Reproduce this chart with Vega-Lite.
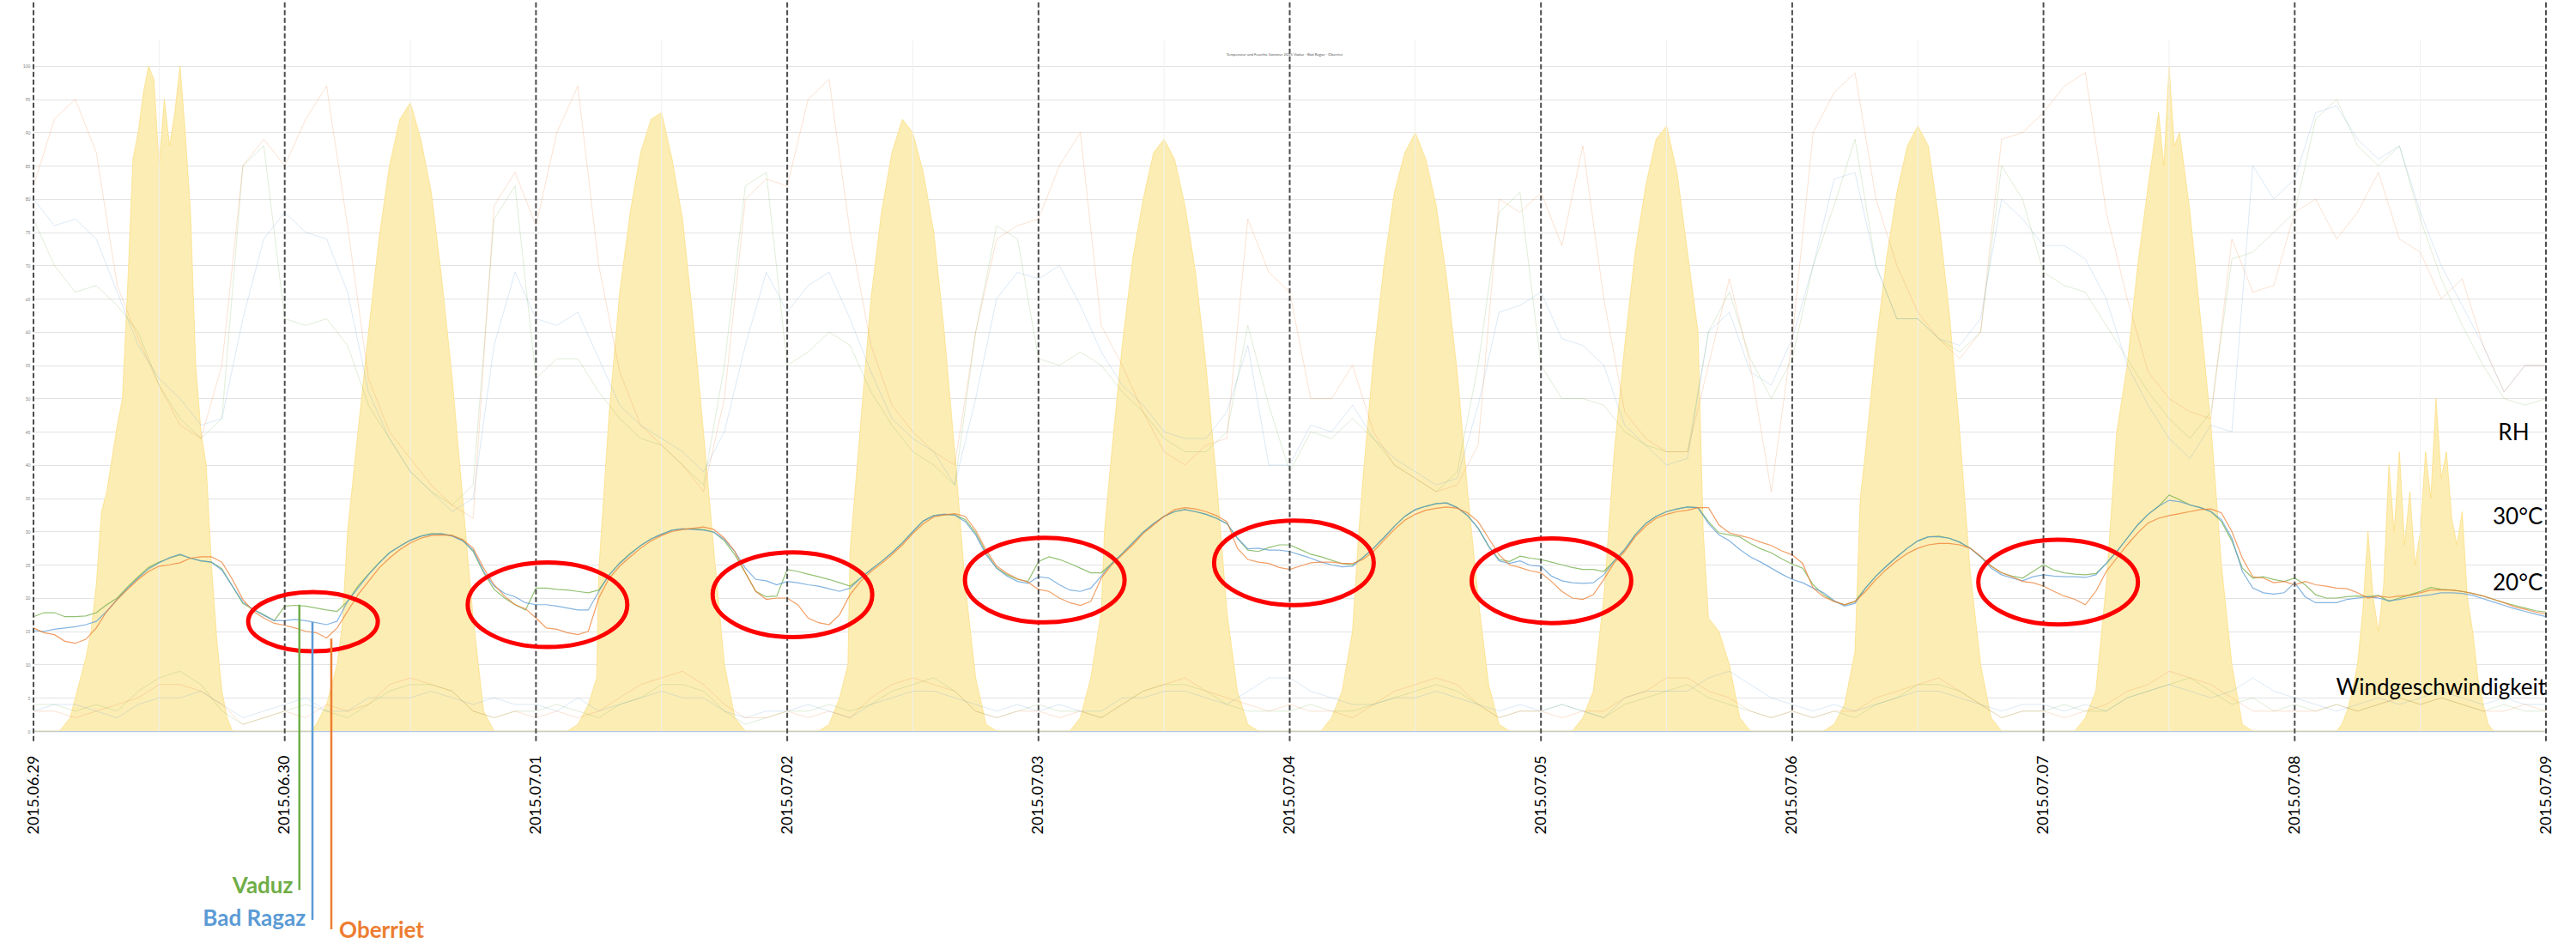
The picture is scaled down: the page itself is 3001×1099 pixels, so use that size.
{
"$schema":"https://vega.github.io/schema/vega-lite/v6.json",
"width":2927,"height":805,"autosize":"none",
"padding":{"left":39,"top":47,"right":35,"bottom":247},
"background":"white",
"config":{"view":{"stroke":null},"font":"Lato"},
"datasets":{
"sun":[{"h":0,"v":0},{"h":2.5,"v":0},{"h":3,"v":1},{"h":3.5,"v":2},{"h":4,"v":5},{"h":4.5,"v":8},{"h":5,"v":11},{"h":5.5,"v":15},{"h":6,"v":22},{"h":6.5,"v":33},{"h":7,"v":36},{"h":7.5,"v":41},{"h":8,"v":46},{"h":8.5,"v":50},{"h":9,"v":67},{"h":9.5,"v":86},{"h":10,"v":90},{"h":10.5,"v":96},{"h":11,"v":100},{"h":11.5,"v":98},{"h":12,"v":85},{"h":12.5,"v":95},{"h":13,"v":88},{"h":13.5,"v":93},{"h":14,"v":100},{"h":14.5,"v":90},{"h":15,"v":78},{"h":15.5,"v":55},{"h":16,"v":45},{"h":16.5,"v":40},{"h":17,"v":25},{"h":17.5,"v":14},{"h":18,"v":6},{"h":18.5,"v":2},{"h":19,"v":0},
{"h":26.5,"v":0},{"h":27,"v":1},{"h":28,"v":4},{"h":29,"v":10},{"h":29.5,"v":16},{"h":30,"v":30},{"h":31,"v":45},{"h":32,"v":60},{"h":33,"v":74},{"h":34,"v":85},{"h":35,"v":92},{"h":36,"v":94.5},{"h":37,"v":89},{"h":38,"v":81},{"h":39,"v":68},{"h":40,"v":53},{"h":41,"v":35},{"h":42,"v":17},{"h":43,"v":3},{"h":44,"v":0},
{"h":51,"v":0},{"h":52,"v":1},{"h":53,"v":4},{"h":53.8,"v":8},{"h":54,"v":24},{"h":55,"v":48},{"h":56,"v":66},{"h":57,"v":78},{"h":58,"v":87},{"h":59,"v":92},{"h":60,"v":93},{"h":61,"v":86},{"h":62,"v":77},{"h":63,"v":62},{"h":64,"v":45},{"h":65,"v":27},{"h":66,"v":10},{"h":67,"v":2},{"h":68,"v":0},
{"h":75,"v":0},{"h":76,"v":1},{"h":77,"v":5},{"h":77.8,"v":10},{"h":78,"v":27},{"h":79,"v":46},{"h":80,"v":65},{"h":81,"v":78},{"h":82,"v":87},{"h":83,"v":92},{"h":84,"v":90},{"h":85,"v":84},{"h":86,"v":75},{"h":87,"v":60},{"h":88,"v":42},{"h":89,"v":22},{"h":90,"v":8},{"h":91,"v":1},{"h":92,"v":0},
{"h":99,"v":0},{"h":100,"v":2},{"h":101,"v":8},{"h":102,"v":18},{"h":102.3,"v":30},{"h":103,"v":42},{"h":104,"v":58},{"h":105,"v":71},{"h":106,"v":80},{"h":107,"v":87},{"h":108,"v":89},{"h":109,"v":86},{"h":110,"v":79},{"h":111,"v":69},{"h":112,"v":55},{"h":113,"v":38},{"h":114,"v":18},{"h":115,"v":6},{"h":116,"v":1},{"h":117,"v":0},
{"h":123,"v":0},{"h":124,"v":2},{"h":125,"v":6},{"h":126,"v":15},{"h":126.6,"v":30},{"h":127,"v":38},{"h":128,"v":56},{"h":129,"v":70},{"h":130,"v":81},{"h":131,"v":87},{"h":132,"v":90},{"h":133,"v":86},{"h":134,"v":79},{"h":135,"v":68},{"h":136,"v":54},{"h":137,"v":36},{"h":138,"v":20},{"h":139,"v":7},{"h":140,"v":1},{"h":141,"v":0},
{"h":147,"v":0},{"h":148,"v":2},{"h":149,"v":6},{"h":150,"v":20},{"h":151,"v":42},{"h":152,"v":58},{"h":153,"v":72},{"h":154,"v":82},{"h":155,"v":89},{"h":156,"v":91},{"h":157,"v":84},{"h":158,"v":72},{"h":159,"v":60},{"h":159.5,"v":30},{"h":160,"v":17},{"h":161,"v":15},{"h":162,"v":10},{"h":163,"v":2},{"h":164,"v":0},
{"h":171,"v":0},{"h":172,"v":1},{"h":173,"v":4},{"h":174,"v":12},{"h":174.5,"v":35},{"h":175,"v":42},{"h":176,"v":58},{"h":177,"v":71},{"h":178,"v":81},{"h":179,"v":88},{"h":180,"v":91},{"h":181,"v":88},{"h":182,"v":77},{"h":183,"v":63},{"h":184,"v":45},{"h":185,"v":24},{"h":186,"v":10},{"h":187,"v":2},{"h":188,"v":0},
{"h":195,"v":0},{"h":196,"v":2},{"h":197,"v":6},{"h":198,"v":22},{"h":199,"v":45},{"h":200,"v":55},{"h":201,"v":70},{"h":202,"v":82},{"h":203,"v":93},{"h":203.5,"v":85},{"h":204,"v":100},{"h":204.5,"v":88},{"h":205,"v":90},{"h":206,"v":78},{"h":207,"v":62},{"h":208,"v":46},{"h":209,"v":25},{"h":210,"v":10},{"h":211,"v":1},{"h":212,"v":0},
{"h":220,"v":0},{"h":220.5,"v":1},{"h":221,"v":3},{"h":221.5,"v":6},{"h":222,"v":10},{"h":222.5,"v":18},{"h":223,"v":30},{"h":223.5,"v":20},{"h":224,"v":15},{"h":224.5,"v":22},{"h":225,"v":40},{"h":225.5,"v":30},{"h":226,"v":42},{"h":226.5,"v":28},{"h":227,"v":36},{"h":227.5,"v":25},{"h":228,"v":30},{"h":228.5,"v":42},{"h":229,"v":35},{"h":229.5,"v":50},{"h":230,"v":38},{"h":230.5,"v":42},{"h":231,"v":32},{"h":231.5,"v":28},{"h":232,"v":33},{"h":232.5,"v":20},{"h":233,"v":15},{"h":233.5,"v":8},{"h":234,"v":4},{"h":234.5,"v":1},{"h":235,"v":0},{"h":240,"v":0}],
"temp":[{"h":0,"g":17.2,"b":15.1,"o":15.5},{"h":1,"g":17.8,"b":15.0,"o":14.8},{"h":2,"g":17.8,"b":15.3,"o":14.5},{"h":3,"g":17.2,"b":15.5,"o":13.5},{"h":4,"g":17.2,"b":15.7,"o":13.2},{"h":5,"g":17.3,"b":16.0,"o":13.8},{"h":6,"g":17.8,"b":16.5,"o":15.5},{"h":7,"g":19.0,"b":18.0,"o":18.0},{"h":8,"g":20.0,"b":19.8,"o":19.8},{"h":9,"g":21.7,"b":21.5,"o":21.3},{"h":10,"g":23.2,"b":23.0,"o":22.8},{"h":11,"g":24.6,"b":24.4,"o":24.0},{"h":12,"g":25.4,"b":25.3,"o":24.8},{"h":13,"g":26.0,"b":26.1,"o":25.0},{"h":14,"g":26.5,"b":26.6,"o":25.3},{"h":15,"g":26.0,"b":26.0,"o":26.0},{"h":16,"g":25.6,"b":25.6,"o":26.2},{"h":17,"g":25.4,"b":25.4,"o":26.2},{"h":18,"g":24.4,"b":24.2,"o":25.4},{"h":19,"g":21.8,"b":21.8,"o":22.8},{"h":20,"g":19.2,"b":19.4,"o":19.8},{"h":21,"g":18.3,"b":18.3,"o":18.0},{"h":22,"g":17.5,"b":17.4,"o":17.0},{"h":23,"g":16.6,"b":16.6,"o":16.2},
{"h":24,"g":18.8,"b":16.6,"o":15.9},{"h":25,"g":18.9,"b":16.8,"o":15.5},{"h":26,"g":18.8,"b":16.6,"o":15.0},{"h":27,"g":18.5,"b":16.3,"o":14.8},{"h":28,"g":18.2,"b":16.0,"o":14.0},{"h":29,"g":18.0,"b":16.5,"o":15.5},{"h":30,"g":19.5,"b":19.5,"o":18.0},{"h":31,"g":21.8,"b":21.5,"o":20.5},{"h":32,"g":23.6,"b":23.5,"o":22.5},{"h":33,"g":25.3,"b":25.2,"o":24.5},{"h":34,"g":26.8,"b":26.8,"o":26.0},{"h":35,"g":27.8,"b":27.8,"o":27.3},{"h":36,"g":28.7,"b":28.7,"o":28.3},{"h":37,"g":29.3,"b":29.3,"o":29.0},{"h":38,"g":29.7,"b":29.6,"o":29.4},{"h":39,"g":29.6,"b":29.7,"o":29.5},{"h":40,"g":29.4,"b":29.3,"o":29.4},{"h":41,"g":28.7,"b":28.6,"o":28.8},{"h":42,"g":27.0,"b":27.2,"o":27.5},{"h":43,"g":23.8,"b":24.0,"o":24.5},{"h":44,"g":21.3,"b":21.8,"o":22.0},{"h":45,"g":20.0,"b":20.7,"o":20.3},{"h":46,"g":19.0,"b":20.2,"o":19.0},{"h":47,"g":18.2,"b":19.3,"o":18.4},
{"h":48,"g":21.5,"b":19.0,"o":17.0},{"h":49,"g":21.5,"b":19.0,"o":15.5},{"h":50,"g":21.3,"b":18.8,"o":15.3},{"h":51,"g":21.2,"b":18.5,"o":14.8},{"h":52,"g":21.0,"b":18.2,"o":14.5},{"h":53,"g":20.8,"b":18.2,"o":15.0},{"h":54,"g":21.2,"b":21.0,"o":20.0},{"h":55,"g":23.5,"b":23.5,"o":23.0},{"h":56,"g":25.3,"b":25.2,"o":24.8},{"h":57,"g":26.7,"b":26.6,"o":26.2},{"h":58,"g":27.9,"b":27.9,"o":27.5},{"h":59,"g":28.9,"b":28.9,"o":28.6},{"h":60,"g":29.6,"b":29.6,"o":29.4},{"h":61,"g":30.2,"b":30.2,"o":30.0},{"h":62,"g":30.4,"b":30.4,"o":30.3},{"h":63,"g":30.4,"b":30.3,"o":30.5},{"h":64,"g":30.3,"b":30.2,"o":30.7},{"h":65,"g":29.9,"b":29.9,"o":30.3},{"h":66,"g":28.6,"b":28.8,"o":29.0},{"h":67,"g":26.5,"b":27.0,"o":27.0},{"h":68,"g":23.8,"b":24.5,"o":23.8},{"h":69,"g":21.0,"b":22.8,"o":21.0},{"h":70,"g":20.2,"b":22.6,"o":19.8},{"h":71,"g":20.3,"b":22.0,"o":20.0},
{"h":72,"g":24.3,"b":22.5,"o":20.0},{"h":73,"g":24.0,"b":22.3,"o":19.0},{"h":74,"g":23.6,"b":22.0,"o":17.0},{"h":75,"g":23.2,"b":21.8,"o":16.3},{"h":76,"g":22.8,"b":21.4,"o":16.0},{"h":77,"g":22.3,"b":21.0,"o":17.5},{"h":78,"g":21.8,"b":21.5,"o":20.5},{"h":79,"g":23.0,"b":23.0,"o":22.5},{"h":80,"g":24.3,"b":24.3,"o":24.0},{"h":81,"g":25.5,"b":25.5,"o":25.2},{"h":82,"g":26.8,"b":26.8,"o":26.5},{"h":83,"g":28.3,"b":28.3,"o":28.0},{"h":84,"g":30.0,"b":30.0,"o":29.7},{"h":85,"g":31.6,"b":31.6,"o":31.2},{"h":86,"g":32.4,"b":32.4,"o":32.2},{"h":87,"g":32.6,"b":32.6,"o":32.5},{"h":88,"g":32.5,"b":32.5,"o":32.7},{"h":89,"g":31.8,"b":31.5,"o":32.3},{"h":90,"g":29.8,"b":29.5,"o":30.2},{"h":91,"g":26.8,"b":26.5,"o":27.2},{"h":92,"g":24.5,"b":24.5,"o":24.8},{"h":93,"g":23.5,"b":23.3,"o":23.7},{"h":94,"g":22.8,"b":22.5,"o":22.9},{"h":95,"g":22.5,"b":22.2,"o":22.4},
{"h":96,"g":25.5,"b":23.2,"o":21.3},{"h":97,"g":26.2,"b":23.0,"o":21.0},{"h":98,"g":25.8,"b":22.0,"o":20.0},{"h":99,"g":25.2,"b":21.2,"o":19.3},{"h":100,"g":24.5,"b":21.0,"o":18.9},{"h":101,"g":23.8,"b":21.5,"o":19.5},{"h":102,"g":23.8,"b":23.3,"o":23.0},{"h":103,"g":25.2,"b":25.2,"o":25.0},{"h":104,"g":26.7,"b":26.7,"o":26.5},{"h":105,"g":28.3,"b":28.3,"o":28.0},{"h":106,"g":29.9,"b":29.9,"o":29.7},{"h":107,"g":31.2,"b":31.2,"o":31.0},{"h":108,"g":32.3,"b":32.3,"o":32.3},{"h":109,"g":33.0,"b":33.0,"o":33.3},{"h":110,"g":33.3,"b":33.3,"o":33.6},{"h":111,"g":33.0,"b":33.0,"o":33.4},{"h":112,"g":32.6,"b":32.6,"o":33.0},{"h":113,"g":32.0,"b":32.0,"o":32.4},{"h":114,"g":31.2,"b":31.2,"o":31.5},{"h":115,"g":29.0,"b":29.0,"o":27.5},{"h":116,"g":27.2,"b":27.4,"o":25.8},{"h":117,"g":27.0,"b":27.5,"o":25.4},{"h":118,"g":27.6,"b":27.2,"o":25.2},{"h":119,"g":28.0,"b":27.2,"o":24.6},
{"h":120,"g":28.0,"b":27.0,"o":24.3},{"h":121,"g":27.3,"b":26.5,"o":24.8},{"h":122,"g":26.6,"b":26.0,"o":25.3},{"h":123,"g":26.2,"b":25.4,"o":25.4},{"h":124,"g":25.7,"b":25.0,"o":25.4},{"h":125,"g":25.2,"b":24.7,"o":25.2},{"h":126,"g":25.0,"b":24.8,"o":25.2},{"h":127,"g":26.1,"b":26.1,"o":25.8},{"h":128,"g":27.5,"b":27.5,"o":27.0},{"h":129,"g":29.1,"b":29.1,"o":28.7},{"h":130,"g":30.8,"b":30.8,"o":30.3},{"h":131,"g":32.3,"b":32.3,"o":31.7},{"h":132,"g":33.3,"b":33.3,"o":32.6},{"h":133,"g":33.8,"b":33.8,"o":33.2},{"h":134,"g":34.2,"b":34.2,"o":33.5},{"h":135,"g":34.3,"b":34.3,"o":33.7},{"h":136,"g":33.6,"b":33.6,"o":33.5},{"h":137,"g":32.4,"b":32.4,"o":32.8},{"h":138,"g":30.5,"b":30.5,"o":31.5},{"h":139,"g":27.8,"b":27.8,"o":29.0},{"h":140,"g":25.8,"b":25.6,"o":26.5},{"h":141,"g":25.5,"b":25.2,"o":25.0},{"h":142,"g":26.3,"b":25.6,"o":24.6},{"h":143,"g":26.0,"b":24.9,"o":24.1},
{"h":144,"g":25.8,"b":24.8,"o":23.8},{"h":145,"g":25.4,"b":23.3,"o":22.5},{"h":146,"g":25.0,"b":22.6,"o":21.0},{"h":147,"g":24.6,"b":22.3,"o":20.0},{"h":148,"g":24.3,"b":22.2,"o":19.8},{"h":149,"g":24.3,"b":22.3,"o":20.5},{"h":150,"g":24.0,"b":23.5,"o":22.8},{"h":151,"g":25.6,"b":25.6,"o":25.3},{"h":152,"g":27.3,"b":27.3,"o":27.0},{"h":153,"g":29.5,"b":29.5,"o":29.2},{"h":154,"g":31.2,"b":31.2,"o":30.8},{"h":155,"g":32.3,"b":32.3,"o":32.0},{"h":156,"g":33.0,"b":33.0,"o":32.6},{"h":157,"g":33.4,"b":33.4,"o":33.0},{"h":158,"g":33.7,"b":33.7,"o":33.2},{"h":159,"g":33.6,"b":33.6,"o":33.6},{"h":160,"g":31.5,"b":31.2,"o":33.6},{"h":161,"g":29.8,"b":29.5,"o":31.0},{"h":162,"g":29.5,"b":28.6,"o":29.8},{"h":163,"g":29.2,"b":27.3,"o":29.4},{"h":164,"g":28.2,"b":26.2,"o":29.0},{"h":165,"g":27.4,"b":25.4,"o":28.4},{"h":166,"g":26.8,"b":24.5,"o":27.9},{"h":167,"g":25.9,"b":23.6,"o":27.1},
{"h":168,"g":25.1,"b":22.8,"o":26.5},{"h":169,"g":24.5,"b":22.3,"o":25.2},{"h":170,"g":22.0,"b":21.5,"o":21.5},{"h":171,"g":20.5,"b":20.8,"o":20.2},{"h":172,"g":19.5,"b":19.6,"o":19.5},{"h":173,"g":19.0,"b":18.8,"o":19.0},{"h":174,"g":19.5,"b":19.2,"o":19.5},{"h":175,"g":21.5,"b":21.5,"o":21.0},{"h":176,"g":23.3,"b":23.3,"o":22.8},{"h":177,"g":24.8,"b":24.8,"o":24.3},{"h":178,"g":26.2,"b":26.2,"o":25.6},{"h":179,"g":27.5,"b":27.5,"o":26.7},{"h":180,"g":28.6,"b":28.6,"o":27.5},{"h":181,"g":29.2,"b":29.2,"o":28.0},{"h":182,"g":29.3,"b":29.2,"o":28.2},{"h":183,"g":29.0,"b":29.0,"o":28.2},{"h":184,"g":28.4,"b":28.4,"o":28.0},{"h":185,"g":27.5,"b":27.5,"o":27.5},{"h":186,"g":26.2,"b":26.2,"o":26.3},{"h":187,"g":24.8,"b":24.5,"o":24.8},{"h":188,"g":23.8,"b":23.5,"o":23.8},{"h":189,"g":23.3,"b":23.0,"o":23.2},{"h":190,"g":23.0,"b":22.6,"o":22.5},{"h":191,"g":24.0,"b":23.2,"o":22.3},
{"h":192,"g":25.0,"b":23.5,"o":21.8},{"h":193,"g":24.2,"b":23.3,"o":21.0},{"h":194,"g":23.8,"b":23.2,"o":20.3},{"h":195,"g":23.6,"b":23.2,"o":19.8},{"h":196,"g":23.5,"b":23.1,"o":19.0},{"h":197,"g":23.7,"b":23.5,"o":21.0},{"h":198,"g":25.2,"b":25.2,"o":24.0},{"h":199,"g":27.0,"b":27.0,"o":26.0},{"h":200,"g":29.0,"b":29.0,"o":28.0},{"h":201,"g":31.0,"b":31.0,"o":29.8},{"h":202,"g":32.6,"b":32.6,"o":31.3},{"h":203,"g":33.8,"b":33.8,"o":32.0},{"h":204,"g":35.5,"b":34.7,"o":32.4},{"h":205,"g":34.8,"b":34.5,"o":32.7},{"h":206,"g":34.0,"b":34.0,"o":33.0},{"h":207,"g":33.6,"b":33.6,"o":33.3},{"h":208,"g":33.0,"b":33.0,"o":33.4},{"h":209,"g":31.5,"b":31.8,"o":32.8},{"h":210,"g":28.6,"b":29.0,"o":30.0},{"h":211,"g":24.5,"b":24.0,"o":26.0},{"h":212,"g":23.0,"b":21.5,"o":23.2},{"h":213,"g":23.2,"b":20.8,"o":23.0},{"h":214,"g":22.8,"b":20.6,"o":22.3},{"h":215,"g":22.5,"b":20.8,"o":22.5},
{"h":216,"g":23.0,"b":22.3,"o":22.0},{"h":217,"g":22.0,"b":20.2,"o":22.5},{"h":218,"g":20.5,"b":19.3,"o":22.0},{"h":219,"g":20.0,"b":19.3,"o":21.8},{"h":220,"g":20.0,"b":19.3,"o":21.5},{"h":221,"g":20.2,"b":19.8,"o":21.4},{"h":222,"g":20.3,"b":20.0,"o":20.8},{"h":223,"g":20.2,"b":20.2,"o":20.0},{"h":224,"g":20.4,"b":20.0,"o":20.3},{"h":225,"g":19.5,"b":19.6,"o":20.1},{"h":226,"g":20.0,"b":19.8,"o":20.3},{"h":227,"g":20.5,"b":20.1,"o":20.4},{"h":228,"g":21.0,"b":20.3,"o":20.8},{"h":229,"g":21.6,"b":20.5,"o":21.2},{"h":230,"g":21.3,"b":20.8,"o":21.2},{"h":231,"g":21.2,"b":20.8,"o":21.2},{"h":232,"g":21.0,"b":20.7,"o":21.0},{"h":233,"g":20.7,"b":20.4,"o":20.7},{"h":234,"g":20.3,"b":19.9,"o":20.3},{"h":235,"g":19.8,"b":19.4,"o":19.8},{"h":236,"g":19.3,"b":18.9,"o":19.3},{"h":237,"g":18.9,"b":18.4,"o":18.7},{"h":238,"g":18.5,"b":18.0,"o":18.3},{"h":239,"g":18.1,"b":17.6,"o":17.9},{"h":240,"g":17.9,"b":17.2,"o":17.6}],
"rh":[{"h":0,"g":77,"b":80,"o":82},{"h":2,"g":70,"b":76,"o":92},{"h":4,"g":66,"b":77,"o":95},{"h":6,"g":67,"b":74,"o":87},{"h":8,"g":64,"b":66,"o":67},{"h":10,"g":60,"b":58,"o":59},{"h":12,"g":52,"b":53,"o":52},{"h":14,"g":47,"b":50,"o":46},{"h":16,"g":44,"b":46,"o":44},{"h":18,"g":47,"b":47,"o":55},{"h":20,"g":85,"b":62,"o":85},{"h":22,"g":88,"b":74,"o":89},
{"h":24,"g":62,"b":78,"o":85},{"h":26,"g":61,"b":75,"o":92},{"h":28,"g":62,"b":74,"o":97},{"h":30,"g":58,"b":66,"o":76},{"h":32,"g":49,"b":51,"o":53},{"h":34,"g":44,"b":44,"o":45},{"h":36,"g":39,"b":39,"o":41},{"h":38,"g":36,"b":36,"o":37},{"h":40,"g":34,"b":33,"o":34},{"h":42,"g":37,"b":35,"o":32},{"h":44,"g":77,"b":58,"o":79},{"h":46,"g":82,"b":69,"o":84},
{"h":48,"g":53,"b":62,"o":76},{"h":50,"g":56,"b":61,"o":90},{"h":52,"g":56,"b":63,"o":97},{"h":54,"g":51,"b":56,"o":70},{"h":56,"g":47,"b":49,"o":54},{"h":58,"g":44,"b":46,"o":46},{"h":60,"g":43,"b":44,"o":43},{"h":62,"g":40,"b":42,"o":40},{"h":64,"g":37,"b":39,"o":36},{"h":66,"g":55,"b":45,"o":50},{"h":68,"g":82,"b":58,"o":80},{"h":70,"g":84,"b":69,"o":83},
{"h":72,"g":55,"b":63,"o":82},{"h":74,"g":57,"b":67,"o":95},{"h":76,"g":60,"b":69,"o":98},{"h":78,"g":58,"b":62,"o":75},{"h":80,"g":51,"b":54,"o":58},{"h":82,"g":46,"b":47,"o":49},{"h":84,"g":42,"b":44,"o":45},{"h":86,"g":40,"b":42,"o":42},{"h":88,"g":37,"b":37,"o":40},{"h":90,"g":60,"b":50,"o":60},{"h":92,"g":76,"b":65,"o":74},{"h":94,"g":74,"b":69,"o":76},
{"h":96,"g":56,"b":68,"o":77},{"h":98,"g":55,"b":70,"o":85},{"h":100,"g":57,"b":64,"o":90},{"h":102,"g":55,"b":57,"o":61},{"h":104,"g":51,"b":52,"o":55},{"h":106,"g":48,"b":49,"o":48},{"h":108,"g":44,"b":45,"o":42},{"h":110,"g":42,"b":44,"o":40},{"h":112,"g":42,"b":44,"o":43},{"h":114,"g":45,"b":48,"o":44},{"h":116,"g":61,"b":58,"o":77},{"h":118,"g":49,"b":40,"o":69},
{"h":120,"g":39,"b":40,"o":66},{"h":122,"g":45,"b":46,"o":50},{"h":124,"g":44,"b":45,"o":50},{"h":126,"g":47,"b":49,"o":55},{"h":128,"g":44,"b":44,"o":45},{"h":130,"g":40,"b":41,"o":40},{"h":132,"g":38,"b":39,"o":38},{"h":134,"g":36,"b":37,"o":36},{"h":136,"g":39,"b":38,"o":37},{"h":138,"g":55,"b":49,"o":43},{"h":140,"g":78,"b":63,"o":80},{"h":142,"g":81,"b":64,"o":78},
{"h":144,"g":55,"b":66,"o":81},{"h":146,"g":50,"b":59,"o":73},{"h":148,"g":50,"b":58,"o":88},{"h":150,"g":49,"b":55,"o":65},{"h":152,"g":45,"b":46,"o":48},{"h":154,"g":43,"b":43,"o":44},{"h":156,"g":42,"b":40,"o":42},{"h":158,"g":42,"b":41,"o":42},{"h":160,"g":60,"b":60,"o":55},{"h":162,"g":66,"b":63,"o":68},{"h":164,"g":56,"b":54,"o":55},{"h":166,"g":50,"b":52,"o":36},
{"h":168,"g":56,"b":59,"o":59},{"h":170,"g":70,"b":70,"o":90},{"h":172,"g":79,"b":83,"o":96},{"h":174,"g":89,"b":84,"o":99},{"h":176,"g":70,"b":70,"o":80},{"h":178,"g":62,"b":62,"o":70},{"h":180,"g":62,"b":62,"o":63},{"h":182,"g":59,"b":59,"o":59},{"h":184,"g":57,"b":58,"o":56},{"h":186,"g":60,"b":62,"o":60},{"h":188,"g":85,"b":80,"o":89},{"h":190,"g":80,"b":77,"o":90},
{"h":192,"g":69,"b":73,"o":93},{"h":194,"g":67,"b":73,"o":97},{"h":196,"g":66,"b":71,"o":99},{"h":198,"g":61,"b":65,"o":78},{"h":200,"g":56,"b":55,"o":65},{"h":202,"g":51,"b":49,"o":54},{"h":204,"g":47,"b":44,"o":50},{"h":206,"g":44,"b":41,"o":48},{"h":208,"g":48,"b":46,"o":47},{"h":210,"g":71,"b":45,"o":74},{"h":212,"g":72,"b":85,"o":66},{"h":214,"g":75,"b":80,"o":67},
{"h":216,"g":78,"b":83,"o":78},{"h":218,"g":92,"b":93,"o":80},{"h":220,"g":95,"b":94,"o":74},{"h":222,"g":88,"b":89,"o":78},{"h":224,"g":85,"b":86,"o":84},{"h":226,"g":88,"b":88,"o":74},{"h":228,"g":77,"b":78,"o":72},{"h":230,"g":68,"b":70,"o":65},{"h":232,"g":61,"b":64,"o":68},{"h":234,"g":55,"b":58,"o":58},{"h":236,"g":50,"b":51,"o":51},{"h":238,"g":49,"b":55,"o":55},{"h":240,"g":50,"b":55,"o":55}],
"wind":[{"h":0,"g":4,"b":3,"o":3},{"h":2,"g":4,"b":4,"o":3},{"h":4,"g":3,"b":4,"o":2},{"h":6,"g":4,"b":3,"o":3},{"h":8,"g":3,"b":2,"o":4},{"h":10,"g":6,"b":4,"o":5},{"h":12,"g":8,"b":5,"o":7},{"h":14,"g":9,"b":5,"o":7},{"h":16,"g":7,"b":6,"o":6},{"h":18,"g":3,"b":4,"o":4},{"h":20,"g":1,"b":2,"o":1},{"h":22,"g":2,"b":3,"o":2},
{"h":24,"g":3,"b":4,"o":3},{"h":26,"g":4,"b":5,"o":2},{"h":28,"g":3,"b":3,"o":4},{"h":30,"g":2,"b":3,"o":3},{"h":32,"g":4,"b":5,"o":4},{"h":34,"g":6,"b":5,"o":7},{"h":36,"g":7,"b":5,"o":8},{"h":38,"g":7,"b":6,"o":7},{"h":40,"g":6,"b":5,"o":6},{"h":42,"g":3,"b":4,"o":3},{"h":44,"g":2,"b":5,"o":2},{"h":46,"g":3,"b":4,"o":3},
{"h":48,"g":3,"b":4,"o":2},{"h":50,"g":4,"b":3,"o":3},{"h":52,"g":3,"b":5,"o":2},{"h":54,"g":2,"b":3,"o":3},{"h":56,"g":4,"b":4,"o":5},{"h":58,"g":5,"b":5,"o":7},{"h":60,"g":7,"b":6,"o":8},{"h":62,"g":7,"b":5,"o":9},{"h":64,"g":6,"b":5,"o":7},{"h":66,"g":3,"b":3,"o":4},{"h":68,"g":1,"b":2,"o":2},{"h":70,"g":2,"b":3,"o":2},
{"h":72,"g":3,"b":3,"o":3},{"h":74,"g":3,"b":4,"o":2},{"h":76,"g":4,"b":3,"o":3},{"h":78,"g":3,"b":2,"o":2},{"h":80,"g":4,"b":4,"o":5},{"h":82,"g":6,"b":5,"o":7},{"h":84,"g":7,"b":6,"o":8},{"h":86,"g":8,"b":6,"o":7},{"h":88,"g":6,"b":5,"o":6},{"h":90,"g":3,"b":4,"o":3},{"h":92,"g":2,"b":3,"o":2},{"h":94,"g":3,"b":4,"o":3},
{"h":96,"g":4,"b":3,"o":3},{"h":98,"g":3,"b":4,"o":2},{"h":100,"g":3,"b":3,"o":3},{"h":102,"g":2,"b":3,"o":2},{"h":104,"g":4,"b":5,"o":4},{"h":106,"g":6,"b":5,"o":6},{"h":108,"g":7,"b":6,"o":7},{"h":110,"g":7,"b":6,"o":8},{"h":112,"g":6,"b":5,"o":6},{"h":114,"g":4,"b":4,"o":5},{"h":116,"g":3,"b":6,"o":4},{"h":118,"g":3,"b":8,"o":3},
{"h":120,"g":3,"b":8,"o":4},{"h":122,"g":4,"b":6,"o":3},{"h":124,"g":3,"b":5,"o":3},{"h":126,"g":3,"b":4,"o":2},{"h":128,"g":4,"b":4,"o":4},{"h":130,"g":5,"b":5,"o":6},{"h":132,"g":6,"b":5,"o":7},{"h":134,"g":7,"b":6,"o":8},{"h":136,"g":6,"b":5,"o":7},{"h":138,"g":4,"b":4,"o":4},{"h":140,"g":2,"b":3,"o":2},{"h":142,"g":3,"b":4,"o":3},
{"h":144,"g":3,"b":3,"o":3},{"h":146,"g":4,"b":4,"o":2},{"h":148,"g":3,"b":3,"o":3},{"h":150,"g":2,"b":2,"o":3},{"h":152,"g":4,"b":5,"o":5},{"h":154,"g":5,"b":6,"o":6},{"h":156,"g":6,"b":6,"o":8},{"h":158,"g":7,"b":6,"o":8},{"h":160,"g":5,"b":8,"o":6},{"h":162,"g":4,"b":9,"o":5},{"h":164,"g":3,"b":7,"o":3},{"h":166,"g":2,"b":5,"o":2},
{"h":168,"g":3,"b":4,"o":3},{"h":170,"g":2,"b":3,"o":2},{"h":172,"g":3,"b":4,"o":3},{"h":174,"g":2,"b":3,"o":3},{"h":176,"g":4,"b":4,"o":5},{"h":178,"g":5,"b":5,"o":6},{"h":180,"g":7,"b":6,"o":7},{"h":182,"g":7,"b":6,"o":8},{"h":184,"g":6,"b":5,"o":6},{"h":186,"g":4,"b":4,"o":4},{"h":188,"g":2,"b":3,"o":2},{"h":190,"g":3,"b":4,"o":3},
{"h":192,"g":3,"b":4,"o":3},{"h":194,"g":4,"b":3,"o":2},{"h":196,"g":3,"b":4,"o":3},{"h":198,"g":3,"b":3,"o":4},{"h":200,"g":5,"b":5,"o":6},{"h":202,"g":6,"b":6,"o":7},{"h":204,"g":7,"b":7,"o":9},{"h":206,"g":8,"b":6,"o":8},{"h":208,"g":6,"b":5,"o":7},{"h":210,"g":4,"b":6,"o":5},{"h":212,"g":5,"b":8,"o":3},{"h":214,"g":3,"b":6,"o":3},
{"h":216,"g":4,"b":5,"o":3},{"h":218,"g":3,"b":4,"o":3},{"h":220,"g":4,"b":3,"o":4},{"h":222,"g":3,"b":4,"o":3},{"h":224,"g":4,"b":5,"o":4},{"h":226,"g":5,"b":4,"o":5},{"h":228,"g":4,"b":5,"o":4},{"h":230,"g":5,"b":6,"o":5},{"h":232,"g":4,"b":5,"o":4},{"h":234,"g":3,"b":4,"o":3},{"h":236,"g":4,"b":5,"o":3},{"h":238,"g":3,"b":4,"o":4},{"h":240,"g":3,"b":4,"o":3}],
"days":[{"h":0},{"h":24},{"h":48},{"h":72},{"h":96},{"h":120},{"h":144},{"h":168},{"h":192},{"h":216},{"h":240}],
"noons":[{"h":12},{"h":36},{"h":60},{"h":84},{"h":108},{"h":132},{"h":156},{"h":180},{"h":204},{"h":228}],
"ell1":[{"h":26.7,"v":16.45}],
"ell":[{"h":49.1,"v":19.0},{"h":72.5,"v":20.5},{"h":96.6,"v":22.7},{"h":120.4,"v":25.3},{"h":145.0,"v":22.6},{"h":193.4,"v":22.4}],
"ann":[{"st":"g","h":25.4,"top":19.0,"bot":-23.9},{"st":"b","h":26.65,"top":16.4,"bot":-28.4},{"st":"o","h":28.45,"top":13.9,"bot":-29.8}],
"annR":[{"st":"g","label":"Vaduz","h":24.8,"v":-23.4},{"st":"b","label":"Bad Ragaz","h":26.0,"v":-28.3}],
"annL":[{"st":"o","label":"Oberriet","h":29.2,"v":-30.1}],
"rlab":[{"label":"RH","h":238.4,"v":44.8},{"label":"30°C","h":239.7,"v":32.1},{"label":"20°C","h":239.7,"v":22.2},{"label":"Windgeschwindigkeit","h":240,"v":6.45}],
"title":[{"label":"Temperatur und Feuchte Sommer 2015 Vaduz - Bad Ragaz - Oberriet","h":119.5,"v":101.7}]
},
"layer":[
{"data":{"name":"sun"},"mark":{"type":"area","color":"#fcedb4","interpolate":"linear"},
 "encoding":{"x":{"field":"h","type":"quantitative","scale":{"domain":[0,240],"nice":false,"zero":false},
   "axis":{"values":[0,24,48,72,96,120,144,168,192,216,240],"labelExpr":"timeFormat(datetime(2015, 5, 29 + datum.value / 24), '%Y.%m.%d')","labelAngle":270,"labelFontSize":18,"labelFont":"Lato","labelColor":"#000000","labelPadding":28,"labelFlush":false,"labelOverlap":false,"ticks":false,"grid":false,"domain":true,"domainColor":"#b4c7e7","domainWidth":1.5,"title":null}},
  "y":{"field":"v","type":"quantitative","scale":{"domain":[0,103.87],"nice":false,"zero":false},
   "axis":{"values":[0,5,10,15,20,25,30,35,40,45,50,55,60,65,70,75,80,85,90,95,100],"labelFontSize":5,"labelColor":"#7f7f7f","labelPadding":4,"ticks":false,"domain":false,"grid":true,"gridColor":"#e3e3e3","gridWidth":1,"title":null}}}},
{"data":{"name":"sun"},"mark":{"type":"line","color":"#fbd96c","strokeWidth":1,"opacity":0.6,"interpolate":"linear"},
 "encoding":{"x":{"field":"h","type":"quantitative","scale":{"domain":[0,240],"nice":false,"zero":false}},"y":{"field":"v","type":"quantitative","scale":{"domain":[0,103.87],"nice":false,"zero":false}}}},
{"data":{"name":"noons"},"mark":{"type":"rule","color":"#f0f0f0","strokeWidth":1},
 "encoding":{"x":{"field":"h","type":"quantitative","scale":{"domain":[0,240],"nice":false,"zero":false}},"y":{"datum":0,"scale":{"domain":[0,103.87],"nice":false,"zero":false}},"y2":{"datum":103.87}}},
{"data":{"name":"rh"},"transform":[{"fold":["g","b","o"],"as":["st","val"]}],"mark":{"type":"line","strokeWidth":1,"opacity":0.22},
 "encoding":{"x":{"field":"h","type":"quantitative","scale":{"domain":[0,240],"nice":false,"zero":false}},"y":{"field":"val","type":"quantitative","scale":{"domain":[0,103.87],"nice":false,"zero":false}},
  "color":{"field":"st","type":"nominal","scale":{"domain":["g","b","o"],"range":["#70AD47","#5B9BD5","#ED7D31"]},"legend":null}}},
{"data":{"name":"wind"},"transform":[{"fold":["g","b","o"],"as":["st","val"]}],"mark":{"type":"line","strokeWidth":1,"opacity":0.22},
 "encoding":{"x":{"field":"h","type":"quantitative","scale":{"domain":[0,240],"nice":false,"zero":false}},"y":{"field":"val","type":"quantitative","scale":{"domain":[0,103.87],"nice":false,"zero":false}},
  "color":{"field":"st","type":"nominal","scale":{"domain":["g","b","o"],"range":["#70AD47","#5B9BD5","#ED7D31"]},"legend":null}}},
{"data":{"name":"temp"},"transform":[{"fold":["g","b","o"],"as":["st","val"]}],"mark":{"type":"line","strokeWidth":1.2,"opacity":0.75},
 "encoding":{"x":{"field":"h","type":"quantitative","scale":{"domain":[0,240],"nice":false,"zero":false}},"y":{"field":"val","type":"quantitative","scale":{"domain":[0,103.87],"nice":false,"zero":false}},
  "color":{"field":"st","type":"nominal","scale":{"domain":["g","b","o"],"range":["#70AD47","#5B9BD5","#ED7D31"]},"legend":null}}},
{"mark":{"type":"rule","color":"#ff7c7c","strokeWidth":1.5},"encoding":{"x":{"datum":0,"type":"quantitative","scale":{"domain":[0,240],"nice":false,"zero":false}},"x2":{"datum":240},"y":{"datum":30,"type":"quantitative","scale":{"domain":[0,103.87],"nice":false,"zero":false}}}},
{"mark":{"type":"rule","color":"#f5c86a","strokeWidth":1.5},"encoding":{"x":{"datum":0,"type":"quantitative","scale":{"domain":[0,240],"nice":false,"zero":false}},"x2":{"datum":240},"y":{"datum":20,"type":"quantitative","scale":{"domain":[0,103.87],"nice":false,"zero":false}}}},
{"data":{"name":"days"},"mark":{"type":"rule","color":"#4d4d4d","strokeWidth":2,"strokeDash":[6,3]},
 "encoding":{"x":{"field":"h","type":"quantitative","scale":{"domain":[0,240],"nice":false,"zero":false}},"y":{"datum":-1.5,"type":"quantitative","scale":{"domain":[0,103.87],"nice":false,"zero":false}},"y2":{"datum":110}}},
{"data":{"name":"ell1"},"mark":{"type":"point","shape":"M -1 0 C -1 -0.2524 -0.5523 -0.457 0 -0.457 C 0.5523 -0.457 1 -0.2524 1 0 C 1 0.2524 0.5523 0.457 0 0.457 C -0.5523 0.457 -1 0.2524 -1 0 Z","size":22801,"filled":false,"color":"#ff0000","strokeWidth":5,"opacity":1},
 "encoding":{"x":{"field":"h","type":"quantitative","scale":{"domain":[0,240],"nice":false,"zero":false}},"y":{"field":"v","type":"quantitative","scale":{"domain":[0,103.87],"nice":false,"zero":false}}}},
{"data":{"name":"ell"},"mark":{"type":"point","shape":"M -1 0 C -1 -0.2927 -0.5523 -0.53 0 -0.53 C 0.5523 -0.53 1 -0.2927 1 0 C 1 0.2927 0.5523 0.53 0 0.53 C -0.5523 0.53 -1 0.2927 -1 0 Z","size":34596,"filled":false,"color":"#ff0000","strokeWidth":5,"opacity":1},
 "encoding":{"x":{"field":"h","type":"quantitative","scale":{"domain":[0,240],"nice":false,"zero":false}},"y":{"field":"v","type":"quantitative","scale":{"domain":[0,103.87],"nice":false,"zero":false}}}},
{"data":{"name":"ann"},"mark":{"type":"rule","strokeWidth":2.5},
 "encoding":{"x":{"field":"h","type":"quantitative","scale":{"domain":[0,240],"nice":false,"zero":false}},"y":{"field":"top","type":"quantitative","scale":{"domain":[0,103.87],"nice":false,"zero":false}},"y2":{"field":"bot"},
  "color":{"field":"st","type":"nominal","scale":{"domain":["g","b","o"],"range":["#70AD47","#5B9BD5","#ED7D31"]},"legend":null}}},
{"data":{"name":"annR"},"mark":{"type":"text","align":"right","baseline":"middle","font":"Lato","fontSize":26,"fontWeight":"bold"},
 "encoding":{"x":{"field":"h","type":"quantitative","scale":{"domain":[0,240],"nice":false,"zero":false}},"y":{"field":"v","type":"quantitative","scale":{"domain":[0,103.87],"nice":false,"zero":false}},"text":{"field":"label"},
  "color":{"field":"st","type":"nominal","scale":{"domain":["g","b","o"],"range":["#70AD47","#5B9BD5","#ED7D31"]},"legend":null}}},
{"data":{"name":"annL"},"mark":{"type":"text","align":"left","baseline":"middle","font":"Lato","fontSize":26,"fontWeight":"bold"},
 "encoding":{"x":{"field":"h","type":"quantitative","scale":{"domain":[0,240],"nice":false,"zero":false}},"y":{"field":"v","type":"quantitative","scale":{"domain":[0,103.87],"nice":false,"zero":false}},"text":{"field":"label"},
  "color":{"field":"st","type":"nominal","scale":{"domain":["g","b","o"],"range":["#70AD47","#5B9BD5","#ED7D31"]},"legend":null}}},
{"data":{"name":"rlab"},"mark":{"type":"text","align":"right","baseline":"middle","font":"Lato","fontSize":26,"color":"#000000"},
 "encoding":{"x":{"field":"h","type":"quantitative","scale":{"domain":[0,240],"nice":false,"zero":false}},"y":{"field":"v","type":"quantitative","scale":{"domain":[0,103.87],"nice":false,"zero":false}},"text":{"field":"label"}}},
{"data":{"name":"title"},"mark":{"type":"text","align":"center","baseline":"middle","font":"Lato","fontSize":4.5,"color":"#595959"},
 "encoding":{"x":{"field":"h","type":"quantitative","scale":{"domain":[0,240],"nice":false,"zero":false}},"y":{"field":"v","type":"quantitative","scale":{"domain":[0,103.87],"nice":false,"zero":false}},"text":{"field":"label"}}},
{"mark":{"type":"rect","fill":null,"stroke":"#d9d9d9","strokeWidth":1},"encoding":{"x":{"datum":-2.2,"type":"quantitative","scale":{"domain":[0,240],"nice":false,"zero":false}},"x2":{"datum":240.7},"y":{"datum":-1.94,"type":"quantitative","scale":{"domain":[0,103.87],"nice":false,"zero":false}},"y2":{"datum":103.87}}},
{"mark":{"type":"rule","color":"#000000","strokeWidth":3.5},"encoding":{"x":{"datum":80.2,"type":"quantitative","scale":{"domain":[0,240],"nice":false,"zero":false}},"x2":{"datum":83.2},"y":{"datum":109.5,"type":"quantitative","scale":{"domain":[0,103.87],"nice":false,"zero":false}}}}
]
}
